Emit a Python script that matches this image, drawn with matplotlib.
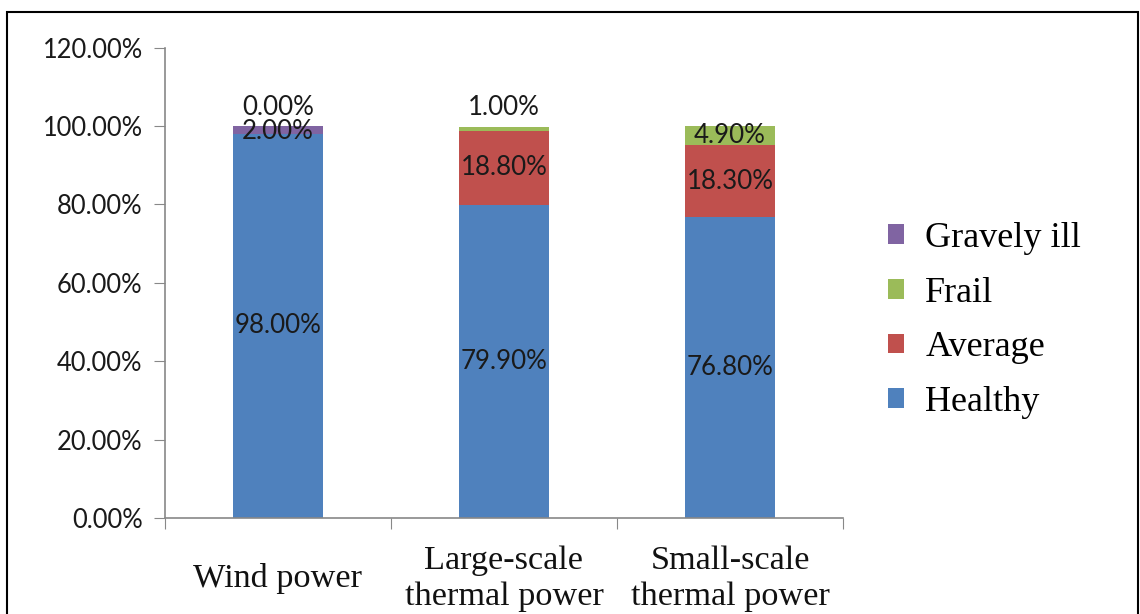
import matplotlib
matplotlib.use("Agg")
import matplotlib.pyplot as plt
from matplotlib.patches import Rectangle, Patch
import numpy as np

categories = ["Wind power", "Large-scale\nthermal power", "Small-scale\nthermal power"]
healthy = [98.0, 79.9, 76.8]
average = [0.0, 18.8, 18.3]
frail = [0.0, 1.0, 4.9]
gravely_ill = [2.0, 0.0, 0.0]
series_names = ["Healthy", "Average", "Frail", "Gravely ill"]
colors = ["#4F81BD", "#C0504D", "#9BBB59", "#8064A2"]
yticks = [0, 20, 40, 60, 80, 100, 120]

fig = plt.figure(figsize=(11.4, 6.14), dpi=100)
ax = fig.add_axes([0.1447, 0.1564, 0.5948, 0.7661])

x = np.arange(len(categories))
w = 0.4
series = [healthy, average, frail, gravely_ill]
bottom = np.zeros(len(categories))
for vals, c, name in zip(series, colors, series_names):
    ax.bar(x, vals, w, bottom=bottom, color=c, label=name, zorder=2)
    bottom = bottom + np.array(vals)

lab_kw = dict(ha="center", va="center", fontsize=18.6, color="#1a1a1a", family="Lato")
for i, v in enumerate(healthy):
    ax.text(x[i], v / 2, f"{v:.2f}%", **lab_kw)
for i, v in enumerate(average):
    if v > 0:
        ax.text(x[i], healthy[i] + v / 2, f"{v:.2f}%", **lab_kw)
ax.text(x[1], healthy[1] + average[1] + frail[1] + 4.9, f"{frail[1]:.2f}%", **lab_kw)
ax.text(x[2], healthy[2] + average[2] + frail[2] / 2, f"{frail[2]:.2f}%", **lab_kw)
ax.text(x[0], healthy[0] + gravely_ill[0] / 2 - 0.3, f"{gravely_ill[0]:.2f}%", **lab_kw)
ax.text(x[0], 104.6, f"{frail[0]:.2f}%", **lab_kw)

ax.set_xlim(-0.5, 2.5)
ax.set_ylim(0, 120)
ax.set_yticks(yticks)
ax.set_yticklabels([f"{t:.2f}%" for t in yticks], fontsize=18.4, family="Lato", color="#1a1a1a")
ax.set_xticks([-0.5, 0.5, 1.5, 2.5])
ax.set_xticklabels([])
ax.tick_params(axis="x", which="major", length=8, color="#888888")
ax.tick_params(axis="y", length=8, color="#888888", pad=8)
for i, cat in enumerate(categories):
    ax.text(x[i], -0.129, cat, transform=ax.get_xaxis_transform(), ha="center", va="center",
            fontsize=24.7, family="Liberation Serif", linespacing=1.2, color="#111111")
for s in ["top", "right"]:
    ax.spines[s].set_visible(False)
for s in ["left", "bottom"]:
    ax.spines[s].set_color("#888888")
    ax.spines[s].set_linewidth(1.2)

handles = [Patch(facecolor=c) for c in colors][::-1]
fig.legend(handles, series_names[::-1], loc="center left", bbox_to_anchor=(0.779, 0.478),
           frameon=False, prop={"family": "Liberation Serif", "size": 26},
           handlelength=0.45, handleheight=0.45, handletextpad=0.58, labelspacing=0.6,
           borderpad=0, borderaxespad=0)

fig.patches.append(Rectangle((0.006, -0.01), 0.992, 0.99, transform=fig.transFigure,
                             fill=False, edgecolor="black", linewidth=1.5))

fig.savefig("out.png", dpi=100)
